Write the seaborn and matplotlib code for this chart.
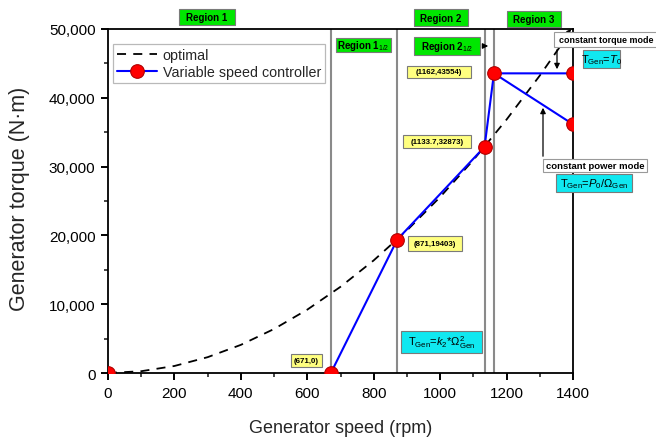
import numpy as np
import pandas as pd
import seaborn as sns
import matplotlib
matplotlib.use("Agg")
import matplotlib.pyplot as plt
from matplotlib.lines import Line2D
from matplotlib.patches import Rectangle
from matplotlib.ticker import MultipleLocator, FuncFormatter

# ---------------- data ----------------
opt_speed = [0, 100, 200, 300, 400, 500, 600, 700, 800, 900, 1000, 1100, 1200, 1300, 1400]
opt_torque = [0, 260, 1020, 2300, 4090, 6400, 9210, 12530, 16370, 20720, 25580, 30950, 36840, 43230, 50140]

ctrl_speed = [0, 671, 871, 1133.7, 1162, 1400]
ctrl_torque = [0, 0, 19403, 32873, 43554, 43554]

power_speed = [1162, 1400]
power_torque = [43554, 36150]

region_bounds = [671, 871, 1133.7, 1162]

point_labels = ["(671,0)", "(871,19403)", "(1133.7,32873)", "(1162,43554)"]
region_labels = ["Region 1", "Region 2", "Region 3", "Region 1$_{1/2}$", "Region 2$_{1/2}$"]

x_ticks = [0, 200, 400, 600, 800, 1000, 1200, 1400]
y_ticks = [0, 10000, 20000, 30000, 40000, 50000]

# ---------------- style ----------------
sns.set_theme(style="ticks")
plt.rcParams["font.family"] = ["Liberation Sans", "DejaVu Sans"]
plt.rcParams["mathtext.fontset"] = "custom"
plt.rcParams["mathtext.rm"] = "Liberation Sans"
plt.rcParams["mathtext.it"] = "Liberation Sans:italic"
plt.rcParams["mathtext.bf"] = "Liberation Sans:bold"

W, H = 656, 439
fig = plt.figure(figsize=(W / 100, H / 100), dpi=100)
L, R, T, B = 108, 573, 30, 374
ax = fig.add_axes([L / W, 1 - B / H, (R - L) / W, (B - T) / H])

BLUE = "#0000ff"
mk = dict(marker="o", markersize=9.8, markerfacecolor="#ff0000",
          markeredgecolor="#b00000", markeredgewidth=0.8)

# region boundary lines
for xb in region_bounds:
    ax.axvline(xb, color="#8a8a8a", lw=1.5, zorder=1)

df_opt = pd.DataFrame({"speed": opt_speed, "torque": opt_torque})
sns.lineplot(data=df_opt, x="speed", y="torque", ax=ax, color="black", lw=1.3,
             linestyle=(0, (5, 4)), zorder=2, legend=False)

df_ctrl = pd.DataFrame({"speed": ctrl_speed, "torque": ctrl_torque})
# connecting line (the flat part at zero torque lies on the axis spine)
sns.lineplot(data=df_ctrl.iloc[1:], x="speed", y="torque", ax=ax, sort=False, estimator=None,
             color=BLUE, lw=1.5, zorder=3, legend=False)
df_pow = pd.DataFrame({"speed": power_speed, "torque": power_torque})
sns.lineplot(data=df_pow, x="speed", y="torque", ax=ax, sort=False, estimator=None,
             color=BLUE, lw=1.5, zorder=3, legend=False)
# markers
df_pts = pd.concat([df_ctrl, df_pow.iloc[1:]], ignore_index=True)
sns.lineplot(data=df_pts, x="speed", y="torque", ax=ax, sort=False, estimator=None,
             lw=0, zorder=4, legend=False, **mk)

ax.set_xlim(0, 1400)
ax.set_ylim(0, 50000)
ax.set_xticks(x_ticks)
ax.set_yticks(y_ticks)
ax.xaxis.set_minor_locator(MultipleLocator(100))
ax.yaxis.set_minor_locator(MultipleLocator(5000))
ax.yaxis.set_major_formatter(FuncFormatter(lambda v, p: f"{int(v):,}"))
ax.tick_params(axis="both", which="major", direction="out", length=5, width=1.4,
               labelsize=11, colors="black", pad=4)
ax.tick_params(axis="both", which="minor", direction="out", length=3, width=1.2)
for s in ax.spines.values():
    s.set_visible(True)
    s.set_color("black")
    s.set_linewidth(1.3)
    s.set_zorder(3.5)

ax.set_xlabel("Generator speed (rpm)", fontsize=13, labelpad=14)
ax.set_ylabel("Generator torque (N·m)", fontsize=15.5)
ax.yaxis.set_label_coords((30 - L) / (R - L), 0.51)

# legend
handles = [
    Line2D([], [], color="black", lw=1.3, linestyle=(0, (5, 4))),
    Line2D([], [], color=BLUE, lw=1.5, **mk),
]
leg = ax.legend(handles, ["optimal", "Variable speed controller"], loc="upper left",
                bbox_to_anchor=(0.010, 0.956), fontsize=10.3, frameon=True, fancybox=False,
                handlelength=2.8, handletextpad=0.4, borderpad=0.3, labelspacing=0.15,
                borderaxespad=0)
leg.get_frame().set_edgecolor("#a8a8a8")
leg.get_frame().set_linewidth(0.9)


def boxed(x0, y0, x1, y1, text, fc, ec="#7a7a7a", fs=7, weight="bold", ha="center", tx=None):
    fig.add_artist(Rectangle((x0 / W, 1 - y1 / H), (x1 - x0) / W, (y1 - y0) / H,
                             transform=fig.transFigure, facecolor=fc, edgecolor=ec,
                             lw=0.8, zorder=5))
    xt = (x0 + x1) / 2 if ha == "center" else tx
    fig.text(xt / W, 1 - (y0 + y1) / 2 / H, text, ha=ha, va="center", fontsize=fs,
             fontweight=weight, color="black", zorder=6)


GREEN = "#00e600"
CYAN = "#10e8f0"
YELLOW = "#ffff80"

boxed(179, 10, 235, 26, region_labels[0], GREEN, fs=7)
boxed(414, 10, 468, 27, region_labels[1], GREEN, fs=7)
boxed(507, 12, 561, 28, region_labels[2], GREEN, fs=7)
boxed(336, 39, 391, 53, region_labels[3], GREEN, fs=7)
boxed(414, 38, 480, 56, region_labels[4], GREEN, fs=7)

boxed(291, 355, 322, 368, point_labels[0], YELLOW, fs=5.7)
boxed(408, 237, 462, 252, point_labels[1], YELLOW, fs=5.7)
boxed(403, 136, 471, 149, point_labels[2], YELLOW, fs=5.7)
boxed(407, 67, 471, 79, point_labels[3], YELLOW, fs=5.7)

boxed(401, 332, 482, 354, r"T$_{\mathrm{Gen}}$=$k_2$*$\Omega^2_{\mathrm{Gen}}$", CYAN, fs=8, weight="normal")
boxed(583, 51, 620, 69, r"T$_{\mathrm{Gen}}$=$T_0$", CYAN, fs=8, weight="normal")
boxed(556, 175, 632, 193, r"T$_{\mathrm{Gen}}$=$P_0$/$\mathit{\Omega}_{\mathrm{Gen}}$", CYAN, fs=8, weight="normal")

boxed(554, 33, 700, 48, "constant torque mode", "white", ec="#9a9a9a", fs=6.4, ha="left", tx=559)
boxed(543, 160, 647, 173, "constant power mode", "white", ec="#9a9a9a", fs=6.8)

# arrows (figure pixel coordinates)
arrow_kw = dict(arrowstyle="-|>", color="black", lw=0.9, mutation_scale=8)
ax.annotate("", xy=(557, H - 73), xytext=(557, H - 48), xycoords="figure pixels",
            textcoords="figure pixels", arrowprops=arrow_kw, zorder=7)
ax.annotate("", xy=(543, H - 106), xytext=(543, H - 160), xycoords="figure pixels",
            textcoords="figure pixels", arrowprops=arrow_kw, zorder=7)
ax.annotate("", xy=(491, H - 47), xytext=(480, H - 47), xycoords="figure pixels",
            textcoords="figure pixels", arrowprops=arrow_kw, zorder=7)
ax.annotate("", xy=(573, H - 28), xytext=(566, H - 36), xycoords="figure pixels",
            textcoords="figure pixels",
            arrowprops=dict(arrowstyle="-|>", color="black", lw=0.9, mutation_scale=6), zorder=7)

fig.savefig("out.png", dpi=100)
